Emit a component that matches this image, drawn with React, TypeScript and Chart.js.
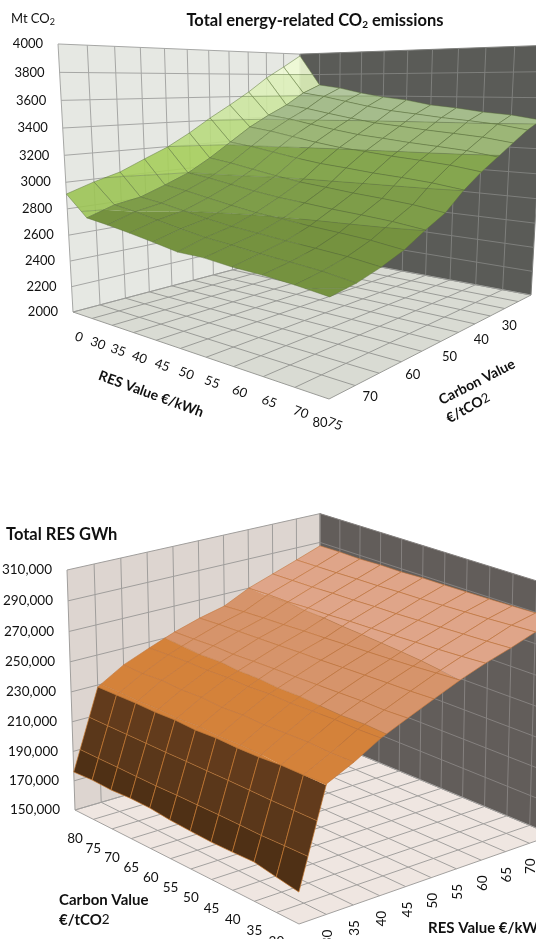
import { useEffect, useRef } from 'react';
import { Chart, registerables } from 'chart.js';

Chart.register(...registerables);

// Axis categories
const resValues = [0, 30, 35, 40, 45, 50, 55, 60, 65, 70, 75];
const carbonValues = [80, 75, 70, 65, 60, 55, 50, 45, 40, 35, 30, 0];

// Total energy-related CO2 emissions (Mt), one list per RES value, carbon value 80 down to 0
const co2Res0 = [2912, 2978, 3032, 3116, 3197, 3301, 3419, 3526, 3639, 3767, 3872, 3982];
const co2Res30 = [2760, 2825, 2856, 2924, 2998, 3102, 3220, 3338, 3434, 3519, 3626, 3700];
const co2Res35 = [2738, 2800, 2833, 2900, 2976, 3076, 3195, 3311, 3406, 3491, 3595, 3671];
const co2Res40 = [2712, 2767, 2802, 2868, 2945, 3042, 3162, 3275, 3368, 3453, 3554, 3626];
const co2Res45 = [2683, 2735, 2772, 2837, 2916, 3009, 3129, 3240, 3332, 3417, 3514, 3591];
const co2Res50 = [2651, 2707, 2746, 2810, 2891, 2980, 3101, 3210, 3300, 3385, 3480, 3567];
const co2Res55 = [2650, 2690, 2730, 2793, 2875, 2962, 3084, 3191, 3280, 3366, 3458, 3528];
const co2Res60 = [2631, 2670, 2712, 2774, 2857, 2942, 3064, 3170, 3258, 3344, 3434, 3507];
const co2Res65 = [2623, 2655, 2698, 2760, 2844, 2927, 3050, 3154, 3241, 3327, 3416, 3478];
const co2Res70 = [2607, 2638, 2682, 2743, 2828, 2909, 3032, 3135, 3222, 3308, 3395, 3460];
const co2Res75 = [2584, 2610, 2656, 2716, 2803, 2880, 3004, 3105, 3190, 3276, 3360, 3426];
const co2Rows = [co2Res0, co2Res30, co2Res35, co2Res40, co2Res45, co2Res50, co2Res55, co2Res60, co2Res65, co2Res70, co2Res75];

// Total RES generation (thousand GWh), one list per RES value, carbon value 80 down to 0
const gwhRes0 = [176.0, 176.7, 176.2, 177.0, 176.8, 175.4, 174.7, 174.2, 174.4, 174.9, 172.3, 169.9];
const gwhRes30 = [228.7, 228.8, 229.0, 228.7, 229.2, 228.5, 229.2, 228.8, 229.0, 230.0, 230.0, 230.7];
const gwhRes35 = [239.0, 238.5, 239.4, 238.6, 239.2, 238.2, 239.0, 238.4, 238.9, 239.2, 238.5, 238.8];
const gwhRes40 = [246.0, 246.6, 247.0, 246.8, 247.4, 247.0, 247.8, 247.4, 248.0, 248.4, 248.1, 248.5];
const gwhRes45 = [252.5, 252.8, 253.4, 253.0, 253.6, 254.0, 254.2, 254.6, 255.0, 255.4, 255.2, 255.9];
const gwhRes50 = [257.7, 258.4, 258.8, 259.2, 259.6, 260.2, 260.4, 261.0, 261.5, 262.0, 262.3, 263.0];
const gwhRes55 = [261.8, 262.8, 263.5, 264.0, 264.8, 265.3, 266.0, 266.6, 267.2, 268.0, 269.0, 270.0];
const gwhRes60 = [270.0, 270.4, 270.2, 271.0, 271.2, 272.0, 272.4, 273.0, 273.6, 274.2, 275.0, 276.0];
const gwhRes65 = [275.8, 276.0, 276.2, 276.8, 277.0, 277.6, 277.8, 278.4, 279.0, 279.6, 280.2, 281.0];
const gwhRes70 = [281.6, 281.8, 282.0, 282.4, 282.6, 283.2, 283.4, 284.0, 284.6, 285.2, 286.0, 286.8];
const gwhRes75 = [287.6, 287.8, 287.5, 288.0, 287.9, 288.5, 288.5, 288.7, 288.9, 289.2, 289.6, 291.0];
const gwhRows = [gwhRes0, gwhRes30, gwhRes35, gwhRes40, gwhRes45, gwhRes50, gwhRes55, gwhRes60, gwhRes65, gwhRes70, gwhRes75];

// Value axes
const co2Ticks = [2000, 2200, 2400, 2600, 2800, 3000, 3200, 3400, 3600, 3800, 4000];
const gwhTicks = [150, 170, 190, 210, 230, 250, 270, 290, 310];

// Band colours, lowest band first: the steep first strip and the rest of the surface
const co2SteepBands = ['#9cc455', '#9cc455', '#9cc455', '#9cc455', '#9cc455', '#a6ce5c', '#b8da7e', '#cce6a0', '#ddefb9', '#eefad4'];
const co2MainBands = ['#75923f', '#75923f', '#75923f', '#75923f', '#7e9d49', '#85a64f', '#9cb677', '#a5bc8c', '#b2c69e', '#b8cca4'];
const gwhSteepBands = ['#4f3015', '#4f3015', '#5a371a', '#623b1c', '#d4823a', '#d5936a', '#dfa589', '#e4b8a2'];
const gwhMainBands = ['#d4823a', '#d4823a', '#d4823a', '#d4823a', '#d4823a', '#d6946b', '#dfa589', '#e4b8a2'];

const FONT = 'Lato, "Open Sans", sans-serif';

type Pt = { u: number; v: number; w: number };
type Vert = { u: number; v: number; val: number };
type Run = { text: string; font: string; drop?: number };

// Perspective camera: a floor homography from four corners plus a lift towards the vertical vanishing point.
function makeCamera(corners: number[][], vanish: number[], lift: number) {
  const [[x0, y0], [x1, y1], [x2, y2], [x3, y3]] = corners;
  const sx = x0 - x1 + x2 - x3;
  const sy = y0 - y1 + y2 - y3;
  const dx1 = x1 - x2;
  const dx2 = x3 - x2;
  const dy1 = y1 - y2;
  const dy2 = y3 - y2;
  const det = dx1 * dy2 - dx2 * dy1;
  const g = (sx * dy2 - dx2 * sy) / det;
  const h = (dx1 * sy - sx * dy1) / det;
  const a = x1 - x0 + g * x1;
  const b = x3 - x0 + h * x3;
  const d = y1 - y0 + g * y1;
  const e = y3 - y0 + h * y3;
  return ({ u, v, w }: Pt) => {
    const W = 1 + g * u + h * v + lift * w;
    return {
      x: (a * u + b * v + x0 + lift * vanish[0] * w) / W,
      y: (d * u + e * v + y0 + lift * vanish[1] * w) / W,
      depth: W,
    };
  };
}

function clipBand(poly: Vert[], level: number, keepAbove: boolean) {
  const out: Vert[] = [];
  const inside = (p: Vert) => (keepAbove ? p.val >= level : p.val <= level);
  poly.forEach((p, i) => {
    const q = poly[(i + 1) % poly.length];
    if (inside(p)) out.push(p);
    if (inside(p) !== inside(q)) {
      const t = (level - p.val) / (q.val - p.val);
      out.push({ u: p.u + (q.u - p.u) * t, v: p.v + (q.v - p.v) * t, val: level });
    }
  });
  return out;
}

function crossings(quad: Vert[], level: number) {
  const hits: Vert[] = [];
  quad.forEach((p, i) => {
    const q = quad[(i + 1) % quad.length];
    if ((p.val - level) * (q.val - level) < 0) {
      const t = (level - p.val) / (q.val - p.val);
      hits.push({ u: p.u + (q.u - p.u) * t, v: p.v + (q.v - p.v) * t, val: level });
    }
  });
  return hits;
}

function drawRuns(ctx: any, runs: Run[], x: number, y: number, align: string, angle = 0) {
  ctx.save();
  ctx.translate(x, y);
  ctx.rotate((angle * Math.PI) / 180);
  ctx.textBaseline = 'middle';
  ctx.textAlign = 'left';
  ctx.fillStyle = '#111111';
  let width = 0;
  runs.forEach((r) => {
    ctx.font = r.font;
    width += ctx.measureText(r.text).width;
  });
  let cx = align === 'center' ? -width / 2 : align === 'right' ? -width : 0;
  runs.forEach((r) => {
    ctx.font = r.font;
    ctx.fillText(r.text, cx, r.drop || 0);
    cx += ctx.measureText(r.text).width;
  });
  ctx.restore();
}

type Spec = {
  top: number;
  bottom: number;
  camera: (p: Pt) => { x: number; y: number; depth: number };
  nu: number;
  nv: number;
  rowsAlongV: boolean;
  rows: number[][];
  levels: number[];
  steep: string[];
  main: string[];
  wallLeft: string;
  wallRight: string;
  floor: string;
  gridLeft: string;
  gridRight: string;
  gridFloor: string;
  wire: string;
  wireSteep: string;
  steepAlpha: number;
  labels: (ctx: any, px: (x: number, y: number) => number[], camera: Spec['camera']) => void;
};

function withAlpha(hex: string, alpha: number) {
  const n = parseInt(hex.slice(1), 16);
  return `rgba(${n >> 16},${(n >> 8) & 255},${n & 255},${alpha})`;
}

function buildLayers(s: Spec) {
  const layers: any[] = [];
  const toXY = (p: Pt) => {
    const q = s.camera(p);
    return { x: q.x, y: q.y };
  };
  const lo = s.levels[0];
  const hi = s.levels[s.levels.length - 1];
  const height = (val: number) => (val - lo) / (hi - lo);
  const face = (pts: Pt[], color: string) => {
    layers.push({
      data: pts.map(toXY), showLine: true, fill: 'shape', backgroundColor: color,
      borderColor: color, borderWidth: 0, pointRadius: 0, tension: 0,
    });
  };
  const stroke = (pts: Pt[], color: string, width = 1) => {
    layers.push({
      data: pts.map(toXY), showLine: true, fill: false, borderColor: color,
      borderWidth: width, pointRadius: 0, tension: 0,
    });
  };

  // Walls and floor
  face([{ u: 0, v: 0, w: 0 }, { u: 0, v: 1, w: 0 }, { u: 0, v: 1, w: 1 }, { u: 0, v: 0, w: 1 }], s.wallLeft);
  face([{ u: 0, v: 1, w: 0 }, { u: 1, v: 1, w: 0 }, { u: 1, v: 1, w: 1 }, { u: 0, v: 1, w: 1 }], s.wallRight);
  face([{ u: 0, v: 0, w: 0 }, { u: 1, v: 0, w: 0 }, { u: 1, v: 1, w: 0 }, { u: 0, v: 1, w: 0 }], s.floor);
  s.levels.forEach((level) => {
    const w = height(level);
    stroke([{ u: 0, v: 0, w }, { u: 0, v: 1, w }], s.gridLeft);
    stroke([{ u: 0, v: 1, w }, { u: 1, v: 1, w }], s.gridRight);
  });
  for (let j = 0; j < s.nv; j++) {
    const v = j / (s.nv - 1);
    stroke([{ u: 0, v, w: 0 }, { u: 0, v, w: 1 }], s.gridLeft);
    stroke([{ u: 0, v, w: 0 }, { u: 1, v, w: 0 }], s.gridFloor);
  }
  for (let i = 0; i < s.nu; i++) {
    const u = i / (s.nu - 1);
    stroke([{ u, v: 1, w: 0 }, { u, v: 1, w: 1 }], s.gridRight);
    stroke([{ u, v: 0, w: 0 }, { u, v: 1, w: 0 }], s.gridFloor);
  }

  // Surface cells, farthest first
  const value = (i: number, j: number) => (s.rowsAlongV ? s.rows[j][i] : s.rows[i][j]);
  const cells: { i: number; j: number; depth: number }[] = [];
  for (let i = 0; i < s.nu - 1; i++) {
    for (let j = 0; j < s.nv - 1; j++) {
      const depth = s.camera({ u: (i + 0.5) / (s.nu - 1), v: (j + 0.5) / (s.nv - 1), w: 0 }).depth;
      cells.push({ i, j, depth });
    }
  }
  cells.sort((p, q) => q.depth - p.depth);
  cells.forEach(({ i, j }) => {
    const du = 1 / (s.nu - 1);
    const dv = 1 / (s.nv - 1);
    const quad: Vert[] = [
      { u: i * du, v: j * dv, val: value(i, j) },
      { u: (i + 1) * du, v: j * dv, val: value(i + 1, j) },
      { u: (i + 1) * du, v: (j + 1) * dv, val: value(i + 1, j + 1) },
      { u: i * du, v: (j + 1) * dv, val: value(i, j + 1) },
    ];
    const isSteep = s.rowsAlongV ? j === 0 : i === 0;
    const palette = isSteep ? s.steep : s.main;
    const wire = isSteep ? s.wireSteep : s.wire;
    for (let b = 0; b < s.levels.length - 1; b++) {
      let poly = clipBand(quad, s.levels[b], true);
      if (poly.length) poly = clipBand(poly, s.levels[b + 1], false);
      if (poly.length >= 3) {
        face(poly.map((p) => ({ u: p.u, v: p.v, w: height(p.val) })), withAlpha(palette[b], isSteep ? s.steepAlpha : 1));
      }
    }
    s.levels.forEach((level) => {
      const hits = crossings(quad, level);
      for (let k = 0; k + 1 < hits.length; k += 2) {
        stroke([hits[k], hits[k + 1]].map((p) => ({ u: p.u, v: p.v, w: height(p.val) })), wire, 0.7);
      }
    });
    const outline = [...quad, quad[0]].map((p) => ({ u: p.u, v: p.v, w: height(p.val) }));
    stroke(outline, wire, 0.8);
  });
  return layers;
}

const co2Camera = makeCamera([[73, 312], [329, 399], [531, 295], [300, 252]], [300, 4374], -0.0619);
const gwhCamera = makeCamera([[75, 810], [299, 924], [553, 835], [320, 738]], [320, 8160], -0.03162);

const tickFont = `13px ${FONT}`;
const tickFontWide = `13.5px ${FONT}`;
const axisFont = `700 14px ${FONT}`;
const axisFontWide = `700 15px ${FONT}`;
const titleFont = `700 16.5px ${FONT}`;

const co2Spec: Spec = {
  top: 0,
  bottom: 470,
  camera: co2Camera,
  nu: resValues.length,
  nv: carbonValues.length,
  rowsAlongV: false,
  rows: co2Rows,
  levels: co2Ticks,
  steep: co2SteepBands,
  main: co2MainBands,
  wallLeft: '#e6e8e3',
  wallRight: '#5a5b57',
  floor: '#d9dbd3',
  gridLeft: '#a6a7a5',
  gridRight: '#7e7f7c',
  gridFloor: '#9a9b97',
  wire: 'rgba(88,110,56,0.55)',
  wireSteep: 'rgba(105,130,70,0.7)',
  steepAlpha: 0.9,
  labels: (ctx, px, camera) => {
    const [tx, ty] = px(315, 21);
    drawRuns(ctx, [
      { text: 'Total energy-related CO', font: titleFont },
      { text: '2', font: `700 10px ${FONT}`, drop: 4 },
      { text: ' emissions', font: titleFont },
    ], tx, ty, 'center');
    const [ux, uy] = px(11, 19);
    drawRuns(ctx, [
      { text: 'Mt CO', font: tickFont },
      { text: '2', font: `9px ${FONT}`, drop: 3 },
    ], ux, uy, 'left');
    co2Ticks.forEach((t, k) => {
      const q = camera({ u: 0, v: 0, w: k / (co2Ticks.length - 1) });
      const [x, y] = px(q.x - 15, q.y);
      drawRuns(ctx, [{ text: String(t), font: tickFont }], x, y, 'right');
    });
    resValues.forEach((t, i) => {
      const q = camera({ u: i / (resValues.length - 1), v: 0, w: 0 });
      const [x, y] = px(q.x + 6, q.y + 25);
      drawRuns(ctx, [{ text: String(t), font: tickFont }], x, y, 'center', 20);
    });
    carbonValues.forEach((t, j) => {
      if (j % 2 || j > 10) return;
      const q = camera({ u: 1, v: j / (carbonValues.length - 1), w: 0 });
      const [x, y] = px(q.x - 9, q.y + 24);
      drawRuns(ctx, [{ text: String(t), font: tickFont }], x, y, 'center');
    });
    const [r1, r2] = px(151, 394);
    drawRuns(ctx, [{ text: 'RES Value €/kWh', font: axisFont }], r1, r2, 'center', 20);
    const [c1, c2] = px(477, 382);
    drawRuns(ctx, [{ text: 'Carbon Value', font: axisFont }], c1, c2, 'center', -27);
    const [e1, e2] = px(468, 408);
    drawRuns(ctx, [{ text: '€/tCO', font: axisFont }, { text: '2', font: tickFont }], e1, e2, 'center', -29);
  },
};

const gwhSpec: Spec = {
  top: 470,
  bottom: 939,
  camera: gwhCamera,
  nu: carbonValues.length,
  nv: resValues.length,
  rowsAlongV: true,
  rows: gwhRows,
  levels: gwhTicks,
  steep: gwhSteepBands,
  main: gwhMainBands,
  wallLeft: '#ddd5d0',
  wallRight: '#625d5a',
  floor: '#efe6e1',
  gridLeft: '#a09e9c',
  gridRight: '#85817f',
  gridFloor: '#a3a19f',
  wire: 'rgba(194,118,58,0.75)',
  wireSteep: 'rgba(200,122,48,0.85)',
  steepAlpha: 1,
  labels: (ctx, px, camera) => {
    const [tx, ty] = px(6, 535);
    drawRuns(ctx, [{ text: 'Total RES GWh', font: titleFont }], tx, ty, 'left');
    gwhTicks.forEach((t, k) => {
      const q = camera({ u: 0, v: 0, w: k / (gwhTicks.length - 1) });
      const [x, y] = px(q.x - 15, q.y);
      drawRuns(ctx, [{ text: `${t},000`, font: tickFontWide }], x, y, 'right');
    });
    carbonValues.forEach((t, j) => {
      if (j > 10) return;
      const q = camera({ u: j / (carbonValues.length - 1), v: 0, w: 0 });
      const [x, y] = px(q.x, q.y + 29);
      drawRuns(ctx, [{ text: String(t), font: tickFontWide }], x, y, 'center');
    });
    resValues.forEach((t, i) => {
      if (i < 1 || i > 9) return;
      const q = camera({ u: 1, v: i / (resValues.length - 1), w: 0 });
      const [x, y] = px(q.x + 1.5, q.y + 23);
      drawRuns(ctx, [{ text: String(t), font: tickFontWide }], x, y, 'center', -90);
    });
    const [c1, c2] = px(59, 900);
    drawRuns(ctx, [{ text: 'Carbon Value', font: axisFontWide }], c1, c2, 'left');
    const [e1, e2] = px(59, 920);
    drawRuns(ctx, [{ text: '€/tCO', font: axisFontWide }, { text: '2', font: tickFontWide }], e1, e2, 'left');
    const [r1, r2] = px(428, 928);
    drawRuns(ctx, [{ text: 'RES Value €/kWh', font: axisFontWide }], r1, r2, 'left');
  },
};

function Surface({ spec }: { spec: Spec }) {
  const ref = useRef<HTMLCanvasElement | null>(null);
  useEffect(() => {
    const labelPlugin = {
      id: 'surfaceLabels',
      afterDraw(chart: any) {
        const px = (x: number, y: number) => [
          chart.scales.x.getPixelForValue(x),
          chart.scales.y.getPixelForValue(y),
        ];
        spec.labels(chart.ctx, px, spec.camera);
      },
    };
    const chart = new Chart(ref.current as HTMLCanvasElement, {
      type: 'scatter',
      data: { datasets: buildLayers(spec).reverse() },
      options: {
        responsive: false,
        animation: false,
        events: [],
        layout: { padding: 0 },
        plugins: { legend: { display: false }, tooltip: { enabled: false }, title: { display: false } },
        scales: {
          x: { type: 'linear', display: false, min: 0, max: 536 },
          y: { type: 'linear', display: false, min: spec.top, max: spec.bottom, reverse: true },
        },
      },
      plugins: [labelPlugin],
    } as any);
    return () => chart.destroy();
  }, [spec]);
  return (
    <canvas
      ref={ref}
      width={536}
      height={spec.bottom - spec.top}
      style={{ position: 'absolute', left: 0, top: spec.top, width: 536, height: spec.bottom - spec.top }}
    />
  );
}

export default function App() {
  return (
    <div style={{ position: 'absolute', left: 0, top: 0, width: 536, height: 939, background: '#ffffff', overflow: 'hidden' }}>
      <Surface spec={co2Spec} />
      <Surface spec={gwhSpec} />
    </div>
  );
}
